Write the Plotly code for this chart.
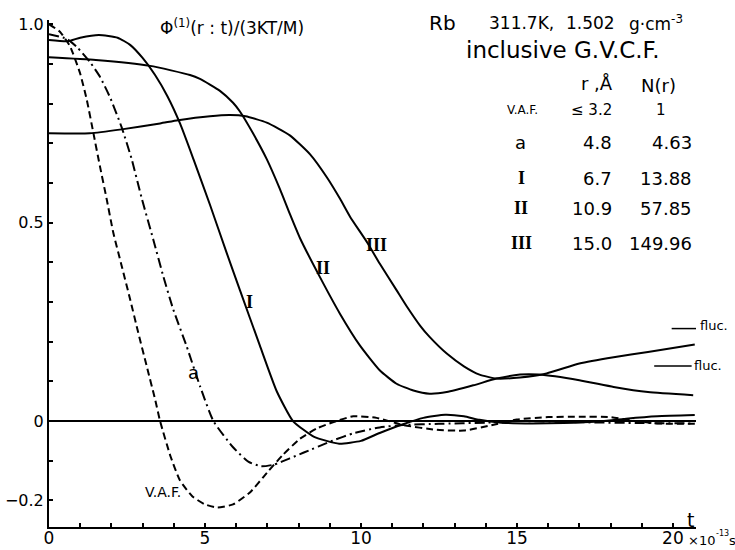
import plotly.graph_objects as go

# ---------------- data ----------------
t_vaf = [0, 0.35, 0.67, 0.99, 1.21, 1.42, 1.63, 1.85, 2.06, 2.33, 2.6, 2.86, 3.13, 3.4, 3.56,
         3.9, 4.2, 4.6, 5.0, 5.4, 5.9, 6.44, 6.99, 7.5, 8.04, 8.6, 9.1, 9.75, 10.5, 11.35,
         12.4, 13.3, 14.1, 15.0, 16.0, 17.0, 18.0, 18.8, 19.5, 20.7]
y_vaf = [1.0, 0.981, 0.945, 0.878, 0.81, 0.727, 0.643, 0.559, 0.475, 0.391, 0.307, 0.223, 0.139, 0.055, 0.0,
         -0.09, -0.15, -0.19, -0.21, -0.218, -0.21, -0.18, -0.13, -0.085, -0.045, -0.018, -0.003, 0.012, 0.008, -0.01,
         -0.022, -0.024, -0.012, 0.004, 0.01, 0.011, 0.01, 0.0, -0.006, -0.007]

t_a = [0, 0.57, 0.89, 1.31, 1.63, 1.96, 2.33, 2.65, 2.97, 3.34, 3.66, 3.98, 4.41, 4.84, 5.27,
       5.9, 6.4, 6.8, 7.2, 7.72, 8.15, 9.1, 9.75, 10.6, 11.35, 12.5, 14.0, 15.0, 17.0, 19.0, 20.7]
y_a = [0.975, 0.963, 0.943, 0.905, 0.868, 0.815, 0.74, 0.66, 0.562, 0.458, 0.366, 0.282, 0.189, 0.088, 0.0,
       -0.066, -0.103, -0.114, -0.11, -0.094, -0.08, -0.049, -0.031, -0.016, -0.01, -0.007, -0.004, 0.0, -0.003, -0.005, -0.006]

t_I = [0, 0.6, 1.0, 1.6, 2.2, 2.6, 3.0, 3.4, 3.8, 4.2, 4.63, 5.16, 5.69, 6.12, 6.76, 7.3, 7.82,
       8.5, 9.3, 10.0, 10.6, 11.35, 12.0, 12.7, 13.3, 13.8, 14.5, 15.5, 16.5, 17.5, 18.5, 19.5, 20.7]
y_I = [0.96, 0.957, 0.966, 0.973, 0.966, 0.948, 0.915, 0.872, 0.818, 0.75, 0.66, 0.545, 0.425, 0.33, 0.19, 0.075, 0.0,
       -0.04, -0.057, -0.05, -0.03, -0.008, 0.008, 0.016, 0.012, 0.003, -0.004, -0.006, -0.005, -0.002, 0.006, 0.012, 0.015]

t_II = [0, 1.5, 3.24, 4.52, 4.84, 5.48, 5.9, 6.12, 6.54, 6.98, 7.4, 7.72, 8.04, 8.69, 9.33, 9.97,
        10.6, 11.14, 11.68, 12.2, 12.75, 13.6, 14.35, 15.1, 15.7, 17.0, 18.1, 19.2, 20.65]
y_II = [0.917, 0.91, 0.895, 0.872, 0.862, 0.832, 0.802, 0.78, 0.725, 0.66, 0.585, 0.522, 0.462, 0.362, 0.27, 0.19,
        0.128, 0.094, 0.077, 0.069, 0.073, 0.09, 0.107, 0.117, 0.117, 0.103, 0.086, 0.073, 0.065]

t_III = [0, 1.31, 2.33, 3.56, 4.14, 5.16, 5.8, 6.3, 6.98, 7.72, 8.37, 8.9, 9.33, 9.65, 10.2, 10.6,
         11.14, 11.46, 11.9, 12.2, 12.75, 13.3, 13.8, 14.35, 15.1, 15.95, 17.0, 18.1, 19.2, 20.7]
y_III = [0.725, 0.725, 0.735, 0.75, 0.758, 0.768, 0.771, 0.768, 0.752, 0.72, 0.672, 0.615, 0.56, 0.515, 0.45, 0.397,
         0.33, 0.29, 0.24, 0.212, 0.17, 0.138, 0.117, 0.107, 0.11, 0.12, 0.145, 0.161, 0.174, 0.193]

# fluctuation levels (III upper, II lower)
fluc_levels = [0.233, 0.139]
fluc_t_start = [19.96, 19.4]
fluc_t_end = [20.76, 20.6]

# table
table_labels = ["V.A.F.", "a", "I", "II", "III"]
table_r = ["≤ 3.2", "4.8", "6.7", "10.9", "15.0"]
table_N = ["1", "4.63", "13.88", "57.85", "149.96"]

# tick labels
x_tick_vals = list(range(0, 21))
x_tick_text = [str(v) if v % 5 == 0 else "" for v in x_tick_vals]
y_tick_vals = [round(-0.2 + 0.1 * i, 1) for i in range(13)]
y_tick_labels = {-0.2: "−0.2", 0.0: "0", 0.5: "0.5", 1.0: "1.0"}
y_tick_text = [y_tick_labels.get(v, "") for v in y_tick_vals]

# ---------------- figure ----------------
W, H = 735, 550
ML, MR, MT, MB = 49, 39, 20, 23
PW, PH = W - ML - MR, H - MT - MB
FONT = "DejaVu Sans"
SERIF = "Liberation Serif"


def px(xp, yp):
    return (xp - ML) / PW, (H - MB - yp) / PH


fig = go.Figure()


def curve(t, y, dash):
    fig.add_trace(go.Scatter(x=t, y=y, mode="lines",
                             line=dict(color="black", width=2, dash=dash, shape="spline", smoothing=0.5),
                             hoverinfo="skip", showlegend=False))


curve(t_III, y_III, "solid")
curve(t_II, y_II, "solid")
curve(t_I, y_I, "solid")
curve(t_a, y_a, "10px,4px,2px,4px")
curve(t_vaf, y_vaf, "7px,4px")

for lvl, t0, t1 in zip(fluc_levels, fluc_t_start, fluc_t_end):
    fig.add_shape(type="line", xref="x", yref="y", x0=t0, x1=t1, y0=lvl, y1=lvl,
                  line=dict(color="black", width=1.5))

ann = []


def text(x, y, s, size, xref="x", yref="y", xanchor="center", family=FONT, yanchor="middle"):
    ann.append(dict(x=x, y=y, xref=xref, yref=yref, text=s, showarrow=False,
                    xanchor=xanchor, yanchor=yanchor, font=dict(family=family, size=size, color="black")))


def ptext(xp, yp, s, size, xanchor="center", family=FONT):
    x, y = px(xp, yp)
    text(x, y, s, size, xref="paper", yref="paper", xanchor=xanchor, family=family)


# curve labels
text(4.62, 0.123, "a", 18)
text(6.44, 0.30, "<b>I</b>", 18, family=SERIF)
text(8.78, 0.385, "<b>II</b>", 18, family=SERIF)
text(10.51, 0.443, "<b>III</b>", 18, family=SERIF)
text(3.65, -0.18, "V.A.F.", 14)
text(21.03, 0.194, "<b>III</b>", 15, family=SERIF)
text(20.96, 0.063, "<b>II</b>", 15, family=SERIF)
text(20.55, -0.25, "t", 19)

# fluc. texts
ptext(698, 325, "fluc.", 13, xanchor="left")
ptext(692, 366, "fluc.", 13, xanchor="left")

# axis unit
ptext(686, 540, "×10", 13, xanchor="left")
ptext(714, 533, "-13", 8, xanchor="left")
ptext(727, 540, "s", 13, xanchor="left")

# y title
ptext(232, 27, "Φ<sup>(1)</sup>(r : t)/(3KT/M)", 17)

# header
ptext(427, 23, "Rb", 20, xanchor="left")
ptext(487, 23, "311.7K,", 17, xanchor="left")
ptext(590, 23, "1.502", 17)
ptext(627, 23, "g·cm<sup>-3</sup>", 17, xanchor="left")
ptext(562, 50, "inclusive G.V.C.F.", 23)
ptext(597, 84, "r ,Å", 18)
ptext(658, 85, "N(r)", 18)

row_y = [110, 142, 178, 208, 243]
for i, (lab, r, n) in enumerate(zip(table_labels, table_r, table_N)):
    yy = row_y[i]
    if i == 0:
        ptext(522, yy, lab, 12)
        ptext(614, yy, r, 15, xanchor="right")
        ptext(661, yy, n, 15)
    else:
        if lab in ("I", "II", "III"):
            ptext(521, yy, "<b>" + lab + "</b>", 18, family=SERIF)
        else:
            ptext(520, yy, lab, 18)
        ptext(614, yy, r, 18, xanchor="right")
        ptext(694, yy, n, 18, xanchor="right")

fig.update_layout(
    width=W, height=H, margin=dict(l=ML, r=MR, t=MT, b=MB, pad=0, autoexpand=False),
    paper_bgcolor="white", plot_bgcolor="white",
    annotations=ann, showlegend=False,
    xaxis=dict(range=[0, 20.74], automargin=False, showgrid=False, zeroline=False,
               showline=True, linecolor="black", linewidth=2,
               ticks="inside", ticklen=4, tickwidth=1.5, tickcolor="black",
               tickmode="array", tickvals=x_tick_vals, ticktext=x_tick_text,
               ticklabelstandoff=-5,
               tickfont=dict(family=FONT, size=17, color="black")),
    yaxis=dict(range=[-0.267, 1.0106], automargin=False, showgrid=False,
               zeroline=True, zerolinecolor="black", zerolinewidth=1.5,
               showline=True, linecolor="black", linewidth=2,
               ticks="inside", ticklen=4, tickwidth=1.5, tickcolor="black",
               tickmode="array", tickvals=y_tick_vals, ticktext=y_tick_text,
               tickfont=dict(family=FONT, size=16, color="black")),
)

fig.write_html("out.html")
